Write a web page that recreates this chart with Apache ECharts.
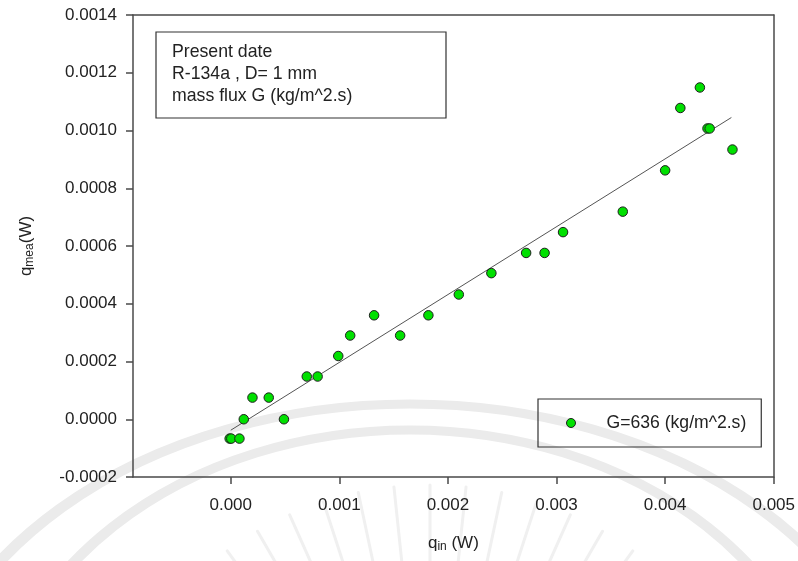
<!DOCTYPE html>
<html>
<head>
<meta charset="utf-8">
<script src="https://cdn.jsdelivr.net/npm/echarts@6/dist/echarts.min.js"></script>
<style>
  html, body { margin: 0; padding: 0; background: #fff; }
  #main { width: 798px; height: 561px; }
</style>
</head>
<body>
<div id="main"></div>
<script>
const seriesName = 'G=636 (kg/m^2.s)';
const qIn = [-0.00001, 0.000005, 0.00008, 0.00012, 0.0002, 0.00035, 0.00049, 0.0007, 0.0008,
  0.00099, 0.0011, 0.00132, 0.00156, 0.00182, 0.0021, 0.0024, 0.00272, 0.00289, 0.00306,
  0.00361, 0.004, 0.00414, 0.00432, 0.00439, 0.00441, 0.00462];
const qMea = [-0.000067, -0.000067, -0.000067, 0, 0.000075, 0.000075, 0, 0.000148, 0.000148,
  0.000219, 0.00029, 0.00036, 0.00029, 0.00036, 0.000432, 0.000506, 0.000576, 0.000576, 0.000648,
  0.000719, 0.000862, 0.001078, 0.001149, 0.001007, 0.001007, 0.000934];
// linear fit line end points
const fitX = [0, 0.00461];
const fitY = [-0.000038, 0.001045];
const xTicks = [0, 0.001, 0.002, 0.003, 0.004, 0.005];
const infoLines = ['Present date', 'R-134a , D= 1 mm', 'mass flux G (kg/m^2.s)'];

const FONT = '"Liberation Sans", Arial, sans-serif';
const TXT = '#222';
const AX = '#4a4a4a';

// faint watermark behind the chart
function watermark() {
  const els = [];
  const bands = [
    { cx: 410, cy: 760, rx: 494, ry: 356 },
    { cx: 410, cy: 760, rx: 420, ry: 330 }
  ];
  bands.forEach(b => {
    els.push({
      type: 'group', x: b.cx, y: b.cy, scaleX: b.rx / b.ry, silent: true, z: -10,
      children: [{
        type: 'circle', shape: { cx: 0, cy: 0, r: b.ry },
        style: { fill: null, stroke: '#ebebeb', lineWidth: 9 }, z: -10
      }]
    });
  });
  const c = { x: 430, y: 830 };
  for (let a = -66; a <= 66; a += 6) {
    const t = a * Math.PI / 180;
    const r1 = 200, r2 = 345;
    els.push({
      type: 'line', silent: true, z: -10,
      shape: {
        x1: c.x + r1 * Math.sin(t), y1: c.y - r1 * Math.cos(t),
        x2: c.x + r2 * Math.sin(t), y2: c.y - r2 * Math.cos(t)
      },
      style: { stroke: '#f0f0f0', lineWidth: 3, lineCap: 'round' }
    });
  }
  return els;
}

const chart = echarts.init(document.getElementById('main'));

const scatterData = qIn.map((x, i) => [x, qMea[i]]);
const fitData = fitX.map((x, i) => [x, fitY[i]]);

const option = {
  animation: false,
  backgroundColor: '#fff',
  grid: { left: 133, right: 21, top: 15, bottom: 84 },
  legend: {
    data: [seriesName],
    left: 538,
    top: 399,
    padding: [15, 15, 15, 28],
    borderColor: '#333',
    borderWidth: 1.2,
    icon: 'circle',
    itemWidth: 9,
    itemHeight: 9,
    itemStyle: { color: '#00e000', borderColor: '#1e1e1e', borderWidth: 1 },
    textStyle: {
      color: TXT, fontFamily: FONT, fontSize: 17.6,
      rich: { a: { fontFamily: FONT, fontSize: 17.6, color: TXT, lineHeight: 17, padding: [0, 0, 0, 26] } }
    },
    formatter: name => '{a|' + name + '}'
  },
  xAxis: [{
    type: 'value',
    min: -0.0009,
    max: 0.005,
    position: 'bottom',
    name: '{q|q}{s|in}{q| (W)}',
    nameLocation: 'middle',
    nameGap: 56,
    nameTextStyle: {
      rich: {
        q: { fontFamily: FONT, fontSize: 17, color: TXT, lineHeight: 20 },
        s: { fontFamily: FONT, fontSize: 12, color: TXT, lineHeight: 12, verticalAlign: 'bottom' }
      }
    },
    axisLine: { show: true, onZero: false, lineStyle: { color: AX, width: 1.5 } },
    axisTick: { show: true, inside: false, length: 7, customValues: xTicks, lineStyle: { color: AX, width: 1.5 } },
    axisLabel: {
      customValues: xTicks,
      formatter: v => v.toFixed(3),
      margin: 20,
      color: TXT, fontFamily: FONT, fontSize: 17
    },
    splitLine: { show: false }
  }, {
    type: 'value',
    min: -0.0009,
    max: 0.005,
    position: 'top',
    axisLine: { show: true, onZero: false, lineStyle: { color: AX, width: 1.5 } },
    axisTick: { show: false },
    axisLabel: { show: false },
    splitLine: { show: false }
  }],
  yAxis: [{
    type: 'value',
    min: -0.0002,
    max: 0.0014,
    interval: 0.0002,
    position: 'left',
    name: '{q|q}{s|mea}{q|(W)}',
    nameLocation: 'middle',
    nameRotate: 90,
    nameGap: 97,
    nameTextStyle: {
      rich: {
        q: { fontFamily: FONT, fontSize: 17, color: TXT, lineHeight: 20 },
        s: { fontFamily: FONT, fontSize: 12, color: TXT, lineHeight: 12, verticalAlign: 'bottom' }
      }
    },
    axisLine: { show: true, onZero: false, lineStyle: { color: AX, width: 1.5 } },
    axisTick: { show: true, inside: false, length: 7, lineStyle: { color: AX, width: 1.5 } },
    axisLabel: {
      formatter: v => v.toFixed(4),
      margin: 16,
      color: TXT, fontFamily: FONT, fontSize: 17
    },
    splitLine: { show: false }
  }, {
    type: 'value',
    min: -0.0002,
    max: 0.0014,
    interval: 0.0002,
    position: 'right',
    axisLine: { show: true, onZero: false, lineStyle: { color: AX, width: 1.5 } },
    axisTick: { show: false },
    axisLabel: { show: false },
    splitLine: { show: false }
  }],
  graphic: watermark().concat([
    {
      type: 'rect', z: 5,
      shape: { x: 156, y: 32, width: 290, height: 86 },
      style: { fill: '#fff', stroke: '#333', lineWidth: 1.2 }
    },
    {
      type: 'text', z: 6, x: 172, y: 41.5,
      style: {
        text: infoLines.join('\n'),
        font: '17.7px ' + FONT,
        fill: TXT,
        lineHeight: 21.7,
        verticalAlign: 'top'
      }
    }
  ]),
  series: [
    {
      name: 'fit',
      type: 'line',
      data: fitData,
      symbol: 'none',
      lineStyle: { color: '#555', width: 1 },
      silent: true,
      z: 2
    },
    {
      name: seriesName,
      type: 'scatter',
      data: scatterData,
      symbol: 'circle',
      symbolSize: 9.5,
      itemStyle: { color: '#00e000', borderColor: '#1e1e1e', borderWidth: 1, opacity: 1 },
      z: 3
    }
  ]
};

chart.setOption(option);
</script>
</body>
</html>
